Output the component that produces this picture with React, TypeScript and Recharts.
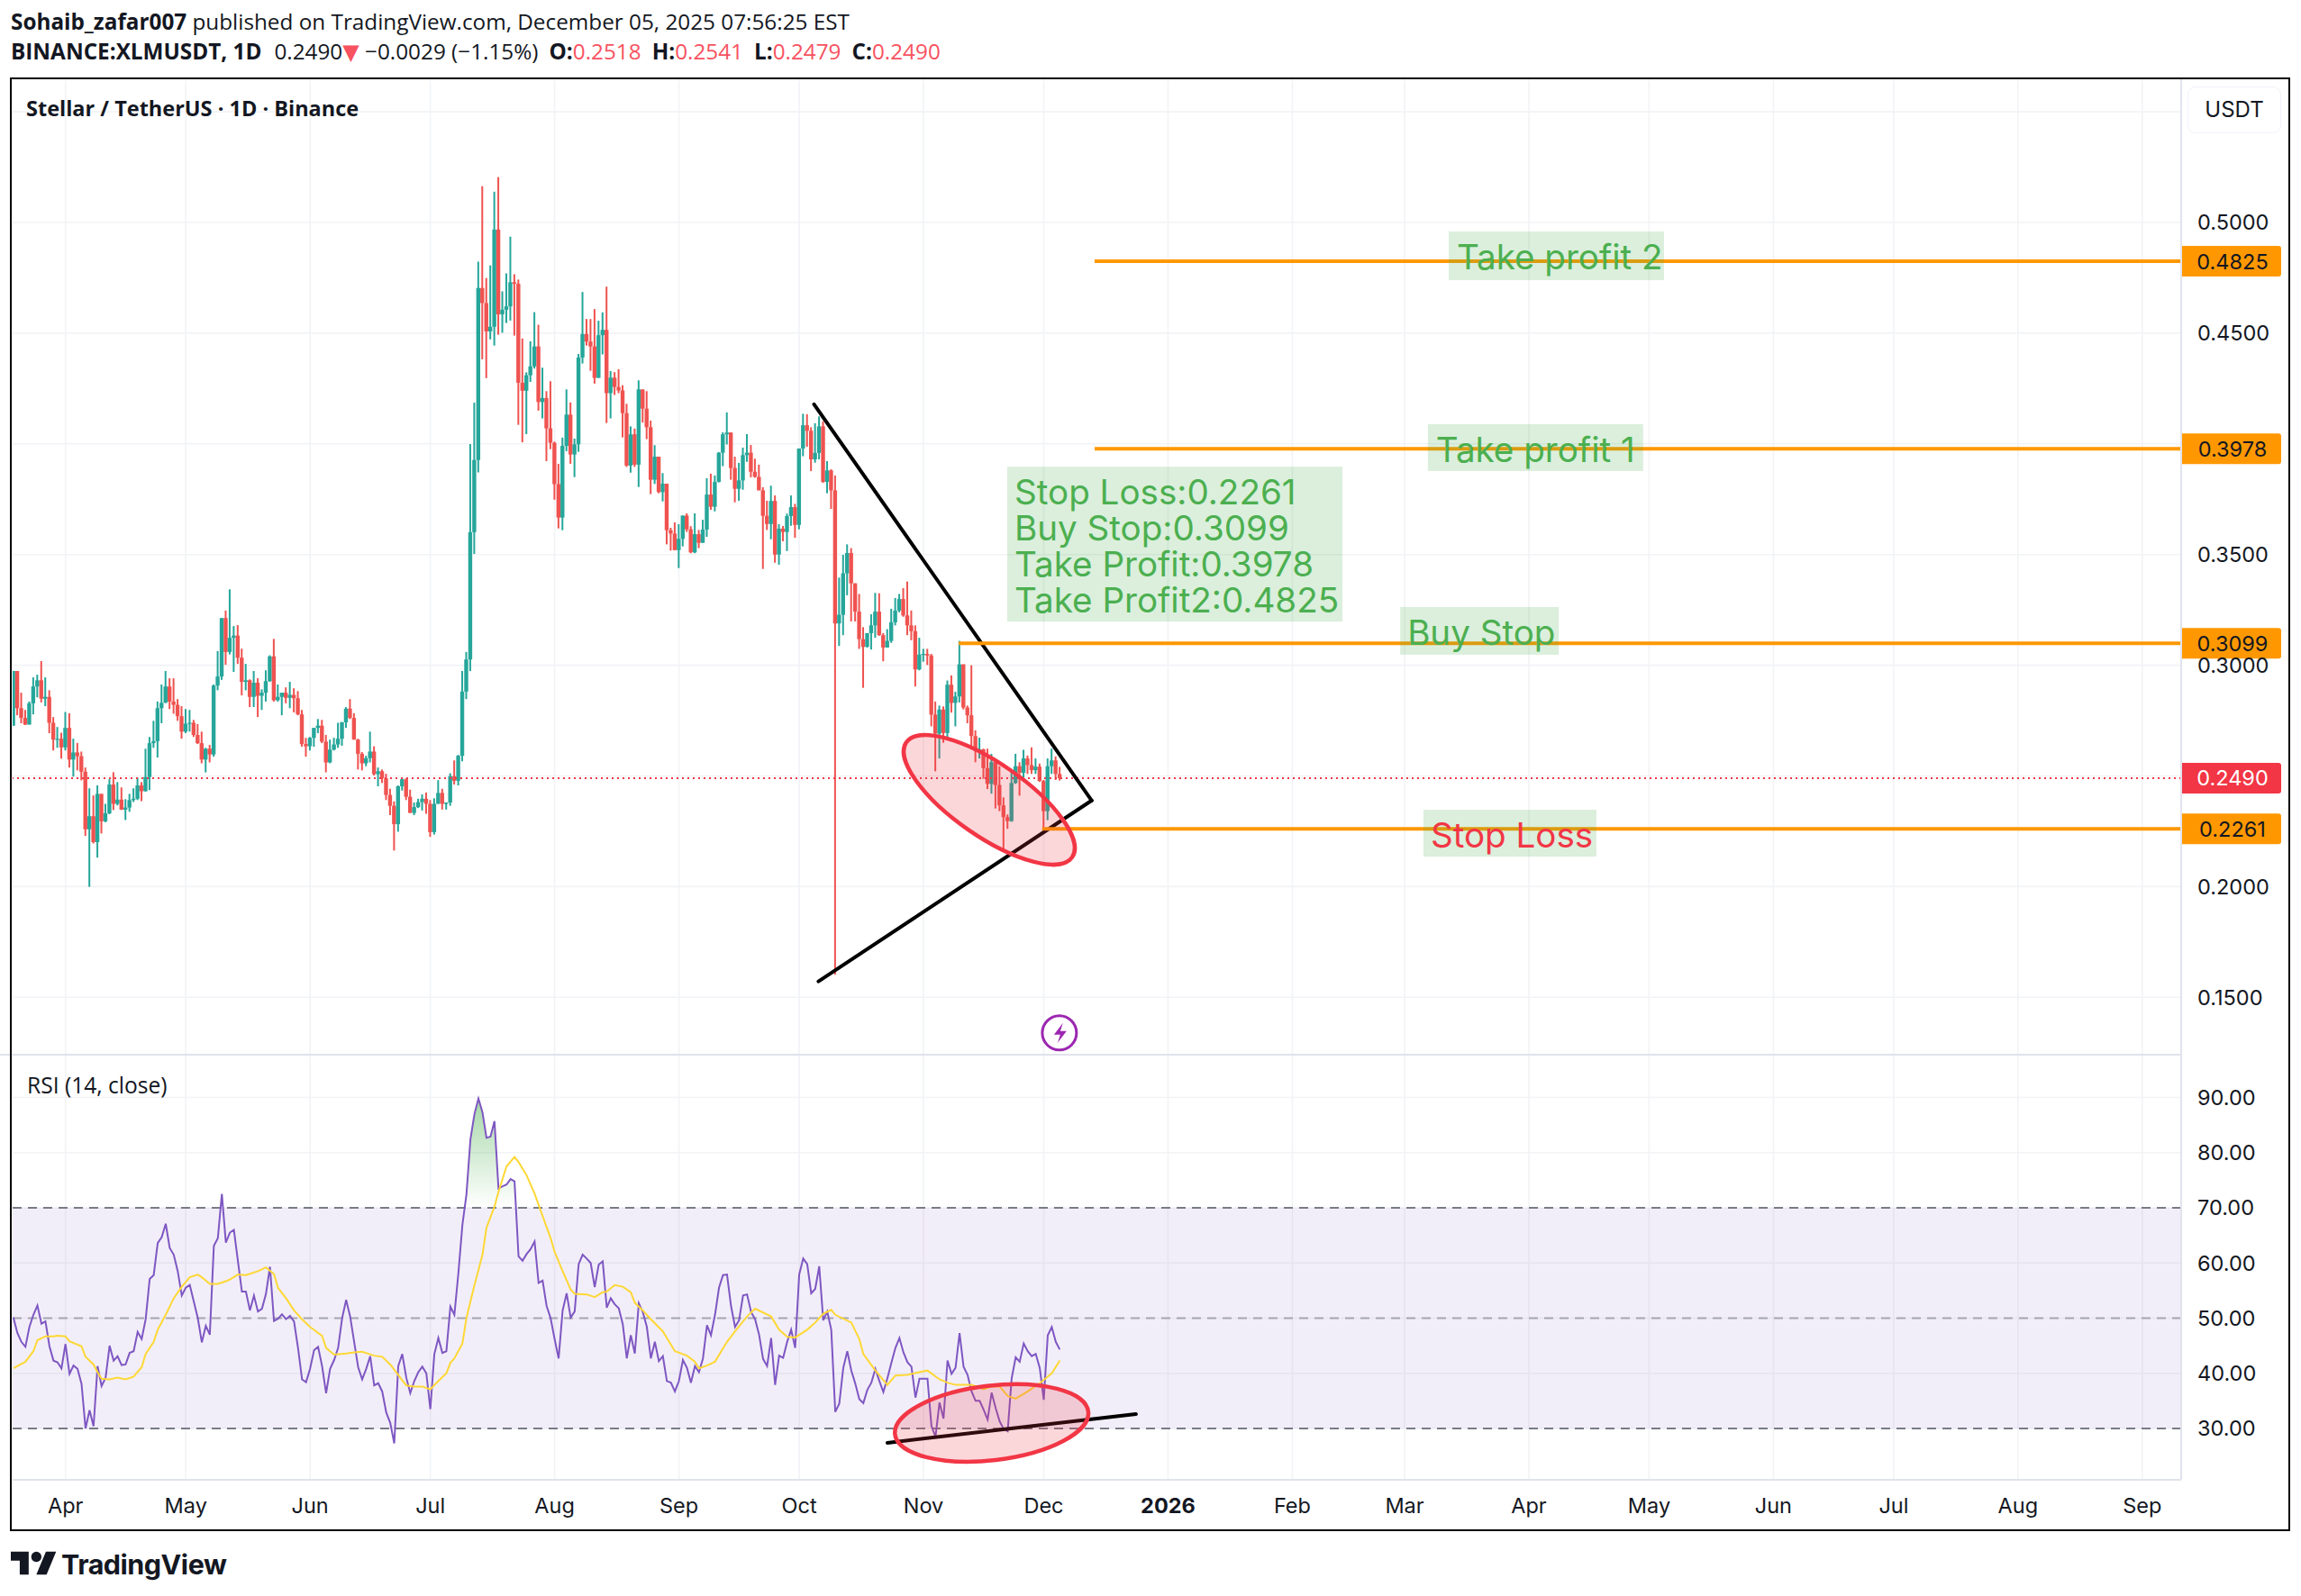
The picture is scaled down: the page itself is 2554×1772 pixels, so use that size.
import React from "react";
import { ComposedChart, Bar, Line, Area, XAxis, YAxis, CartesianGrid, ReferenceLine, ReferenceDot, ReferenceArea } from "recharts";

// Day 0 is 1 Apr 2025; the first candle is 19 Mar 2025.
const firstDay = -13;
const firstOpen = 0.2727;
const closes = [
  .2974,.2806,.2762,.2732,.2828,.2904,.2932,.2849,.2857,.2740,.2664,.2668,.2629,
  .2717,.2574,.2606,.2589,.2519,.2259,.2318,.2201,.2419,.2295,.2331,.2461,.2374,.2393,.2348,.2357,.2391,.2397,.2457,.2431,.2495,.2648,.2657,.2806,.2830,.2904,.2836,.2821,.2770,.2700,
  .2736,.2740,.2685,.2648,.2574,.2623,.2597,.2908,.2949,.3213,.3060,.3124,.3134,.3034,.2925,.2932,.2857,.2921,.2862,.2876,.2928,.3040,.2842,.2857,.2876,.2853,.2866,.2851,.2778,.2644,.2634,
  .2672,.2717,.2727,.2655,.2561,.2619,.2642,.2668,.2742,.2804,.2762,.2664,.2600,.2557,.2580,.2610,.2508,.2521,.2489,.2414,.2365,.2282,.2453,.2485,.2406,.2333,.2359,.2382,.2397,.2374,
  .2246,.2374,.2423,.2374,.2380,.2499,.2478,.2591,.2881,.3026,.3601,.3927,.4704,.4636,.4508,.4529,.4968,.4585,.4606,.4621,.4730,.4723,.4276,.4240,.4310,.4350,.4440,.4189,.4207,.4070,.4005,
  .3818,.3667,.3991,.4132,.3952,.3998,.4390,.4496,.4462,.4440,.4298,.4491,.4515,.4229,.4299,.4257,.4241,.4139,.3902,.4043,.3906,.4246,.4159,.4075,.3838,.3942,.3782,.3820,.3610,.3595,.3520,.3571,
  .3676,.3614,.3510,.3592,.3553,.3613,.3771,.3716,.3828,.3960,.4043,.4051,.3891,.3797,.3835,.3949,.3960,.3874,.3851,.3790,.3675,.3638,.3742,.3500,.3617,.3602,.3674,.3714,.3634,
  .3979,.4084,.4059,.3930,.3959,.4079,.3828,.3880,.3790,.3189,.3228,.3415,.3507,.3370,.3242,.3118,.3083,.3145,.3180,.3242,.3136,.3080,.3110,.3194,.3247,.3299,.3225,.3180,.3154,.2981,.3048,
  .3051,.3044,.2777,.2691,.2800,.2694,.2912,.2830,.2859,.3004,.2809,.2774,.2680,.2615,.2620,.2535,.2464,.2562,.2459,.2367,.2314,.2296,.2468,.2544,.2514,.2579,.2549,.2526,.2542,.2477,
  .2341,.2544,.2570,.2509,.2490,
];
const highs = [
  .2974,.2921,.2876,.2798,.2836,.2945,.2957,.3019,.2945,.2887,.2766,.2721,.2695,
  .2789,.2783,.2668,.2649,.2610,.2538,.2444,.2412,.2457,.2419,.2374,.2485,.2517,.2472,.2448,.2395,.2419,.2444,.2493,.2472,.2623,.2676,.2749,.2836,.2913,.2974,.2941,.2941,.2847,.2815,
  .2802,.2798,.2753,.2734,.2700,.2627,.2640,.2913,.3064,.3213,.3247,.3343,.3177,.3181,.3075,.3006,.2936,.2974,.2941,.2891,.2977,.3045,.3119,.2913,.2876,.2900,.2925,.2896,.2883,.2798,.2672,
  .2676,.2717,.2757,.2753,.2685,.2664,.2672,.2740,.2744,.2811,.2847,.2783,.2668,.2608,.2591,.2700,.2634,.2538,.2529,.2510,.2442,.2385,.2457,.2493,.2489,.2438,.2380,.2397,.2417,.2425,
  .2391,.2399,.2481,.2442,.2380,.2512,.2570,.2595,.2974,.3060,.3999,.4186,.4823,.5164,.4749,.4806,.5139,.5205,.4689,.4770,.4936,.4766,.4742,.4476,.4323,.4463,.4595,.4538,.4344,.4238,.4283,
  .4010,.3910,.4028,.4246,.4187,.4024,.4406,.4686,.4564,.4564,.4609,.4556,.4594,.4710,.4329,.4324,.4337,.4265,.4181,.4079,.4069,.4287,.4245,.4238,.4105,.3994,.3942,.3868,.3820,.3621,.3645,
  .3637,.3676,.3686,.3628,.3686,.3611,.3657,.3845,.3865,.3857,.3963,.4052,.4142,.4052,.3942,.3914,.3983,.4044,.3995,.3933,.3906,.3804,.3743,.3811,.3767,.3637,.3629,.3685,.3767,.3729,
  .3979,.4136,.4134,.4075,.4093,.4124,.4102,.3922,.3885,.3857,.3396,.3499,.3546,.3529,.3370,.3322,.3172,.3145,.3230,.3327,.3325,.3145,.3163,.3255,.3304,.3322,.3348,.3378,.3247,.3180,.3124,
  .3074,.3074,.3051,.2836,.2818,.2814,.2931,.2954,.2880,.3110,.3004,.2818,.3000,.2706,.2673,.2623,.2623,.2600,.2570,.2544,.2403,.2326,.2526,.2600,.2562,.2618,.2592,.2629,.2579,.2556,
  .2482,.2579,.2623,.2588,.2541,
];
const lows = [
  .2727,.2774,.2738,.2730,.2732,.2778,.2855,.2832,.2815,.2693,.2615,.2627,.2578,
  .2615,.2538,.2497,.2525,.2480,.2229,.1999,.2195,.2131,.2240,.2291,.2327,.2346,.2367,.2346,.2301,.2338,.2382,.2391,.2386,.2429,.2436,.2627,.2583,.2738,.2830,.2802,.2781,.2749,.2668,
  .2693,.2700,.2676,.2644,.2557,.2516,.2561,.2587,.2887,.2934,.3002,.3049,.2970,.3006,.2864,.2887,.2811,.2811,.2766,.2798,.2836,.2925,.2836,.2836,.2774,.2828,.2806,.2787,.2774,.2632,.2587,
  .2615,.2632,.2693,.2648,.2516,.2557,.2615,.2627,.2636,.2717,.2757,.2664,.2529,.2525,.2544,.2561,.2502,.2453,.2468,.2391,.2323,.2163,.2248,.2434,.2391,.2333,.2323,.2355,.2344,.2329,
  .2225,.2235,.2374,.2348,.2348,.2365,.2461,.2457,.2566,.2847,.2974,.3503,.3871,.4382,.4297,.4472,.4444,.4493,.4502,.4546,.4557,.4489,.4086,.4007,.4044,.4280,.4340,.4150,.4115,.3922,.3976,
  .3748,.3618,.3610,.3967,.3910,.3850,.3964,.4363,.4444,.4330,.4272,.4298,.4404,.4094,.4115,.4221,.4229,.4029,.3896,.3870,.3896,.3805,.4096,.4021,.3773,.3819,.3777,.3740,.3546,.3518,.3520,
  .3439,.3537,.3602,.3506,.3506,.3529,.3553,.3580,.3702,.3695,.3826,.3899,.3997,.3838,.3736,.3743,.3793,.3919,.3849,.3847,.3790,.3435,.3611,.3569,.3463,.3454,.3560,.3516,.3630,.3576,
  .3614,.3944,.3987,.3877,.3915,.3930,.3824,.3777,.3706,.1602,.3087,.3136,.3316,.3198,.3198,.3074,.2898,.3080,.3071,.3124,.3133,.3018,.3080,.3101,.3180,.3239,.3219,.3136,.3113,.2904,.2977,
  .3016,.3001,.2724,.2521,.2579,.2650,.2662,.2786,.2724,.2832,.2800,.2738,.2632,.2562,.2579,.2487,.2441,.2420,.2353,.2341,.2164,.2261,.2293,.2464,.2411,.2478,.2509,.2509,.2509,.2473,
  .2261,.2300,.2509,.2482,.2479,
];
const rsiValues = [
  50.1,47.3,45.7,44.8,48.4,50.6,52.3,49.0,49.4,44.9,42.3,42.0,40.9,
  45.3,39.9,41.4,40.8,38.1,30.0,33.3,30.4,41.3,37.7,39.2,45.0,42.3,43.1,41.5,41.6,43.7,44.0,47.5,46.2,49.8,57.1,57.8,63.6,64.7,67.1,62.7,61.5,58.5,54.1,
  55.5,56.0,53.0,50.0,45.6,48.6,47.0,63.1,64.5,72.5,63.7,65.5,66.0,60.4,54.8,54.8,51.4,54.1,51.2,51.7,54.4,59.3,49.5,49.9,50.7,49.8,50.4,49.4,44.6,38.9,38.4,
  40.8,44.2,44.8,41.3,36.4,40.8,42.4,44.6,50.0,53.3,50.3,45.7,41.1,38.9,40.8,43.1,37.8,38.2,36.7,32.9,31.0,27.3,41.3,43.5,39.2,36.4,38.6,40.2,41.2,40.0,
  33.5,43.5,46.4,43.7,44.0,52.1,50.6,58.2,66.9,72.4,82.4,87.0,89.8,87.3,82.7,82.9,85.7,73.5,73.9,74.2,75.2,74.8,61.2,60.4,61.6,62.5,63.9,56.4,56.8,52.2,50.0,
  46.2,42.7,51.4,54.5,50.1,51.2,59.8,61.5,60.8,60.0,55.6,59.7,60.3,51.9,53.6,52.5,51.8,48.9,42.7,46.9,43.6,52.7,51.1,48.4,42.7,45.7,42.2,43.1,38.6,38.3,36.7,
  38.6,42.4,41.0,38.3,41.3,40.2,42.7,48.7,46.9,50.6,55.5,57.8,57.9,52.2,48.4,49.6,54.1,54.3,51.1,49.8,47.0,42.6,41.3,46.4,37.9,43.2,42.8,45.7,47.9,44.6,
  57.9,60.8,59.8,54.5,55.3,59.4,49.6,51.2,47.9,33.0,34.5,41.0,44.0,40.5,38.1,35.3,34.6,37.0,38.3,40.8,38.6,36.6,39.1,41.9,44.6,46.4,43.8,42.0,41.2,35.6,39.0,
  39.0,39.0,30.4,28.5,34.7,31.8,42.3,39.9,41.0,47.3,41.2,39.7,36.7,35.0,35.0,33.4,31.6,36.5,33.7,31.3,29.9,29.5,39.1,42.9,42.1,45.4,44.0,43.1,43.5,41.0,
  35.2,46.9,48.4,45.7,44.3,
];
// RSI moving average: only the positions (1-based candle number).
const maCandle = [1,4,6,7,9,11,12,14,15,18,19,21,22,23,25,27,29,31,33,34,36,37,39,41,43,45,47,48,50,52,54,55,57,59,62,64,66,67,69,71,73,75,78,79,81,84,86,88,91,93,95,97,99,101,103,105,107,109,110,111,113,114,116,117,118,119,121,122,124,126,127,129,131,133,135,136,138,140,141,144,146,148,149,151,153,155,156,158,160,163,166,169,171,172,174,176,179,181,184,186,190,192,194,196,199,201,203,205,206,210,212,213,216,219,221,224,227,229,232,234,236,240,243,245,247,249,251,254,257,260,262];
const maValues = [40.9,42.1,44.0,46.0,46.7,46.7,46.8,46.7,45.8,44.9,43.0,41.6,40.2,39.0,38.9,39.2,38.9,39.4,41.1,43.5,45.7,47.9,50.6,53.6,55.7,57.4,57.9,57.4,56.2,56.2,56.7,57.0,57.9,57.8,58.5,59.2,58.0,55.5,53.6,51.4,49.8,48.4,46.8,44.6,43.4,43.6,43.8,43.9,43.2,43.0,41.6,39.7,37.8,37.6,37.6,37.1,38.6,40.0,41.9,42.7,45.4,50.0,56.0,58.7,61.5,66.4,70.2,72.9,77.5,79.2,78.3,75.9,72.6,68.5,64.5,62.0,58.5,55.2,54.4,54.3,53.8,54.7,54.8,56.0,55.7,54.7,52.8,51.4,49.8,47.6,44.0,43.2,42.1,40.9,41.4,42.1,45.7,47.6,50.3,51.7,50.3,47.9,46.6,46.5,47.9,49.2,50.8,51.5,50.6,49.2,46.2,43.5,40.5,37.9,39.6,39.7,40.2,40.5,38.9,38.3,37.9,37.9,37.1,37.6,37.6,35.9,35.4,36.7,38.2,40.0,42.3];

const monthTicks = [0,30,61,91,122,153,183,214,244,275,306,334,365,395,426,456,487,518];
const monthLabels = ["Apr","May","Jun","Jul","Aug","Sep","Oct","Nov","Dec","2026","Feb","Mar","Apr","May","Jun","Jul","Aug","Sep"];
const priceTicks = [0.15,0.2,0.3,0.35,0.45,0.5];
const priceGrid = [0.15,0.2,0.25,0.3,0.35,0.4,0.45,0.5,0.55];
const rsiTicks = [30,40,50,60,70,80,90];

const lastPrice = 0.249;
const stopLoss = 0.2261, buyStop = 0.3099, takeProfit1 = 0.3978, takeProfit2 = 0.4825;
const levels = [
  { price: takeProfit2, from: 256.7 },
  { price: takeProfit1, from: 256.7 },
  { price: buyStop, from: 222.8 },
  { price: stopLoss, from: 243.6 },
];
const notes = [
  { day: 345, top: 0.4959, w: 239, h: 54, color: "#4caf50", lines: ["Take profit 2"], dx: 9, base: 42 },
  { day: 339.8, top: 0.4089, w: 239, h: 52, color: "#4caf50", lines: ["Take profit 1"], dx: 9, base: 42 },
  { day: 332.9, top: 0.3263, w: 176, h: 53, color: "#4caf50", lines: ["Buy Stop"], dx: 8, base: 42 },
  { day: 338.7, top: 0.2347, w: 192, h: 52, color: "#f23645", lines: ["Stop Loss"], dx: 8, base: 42 },
  { day: 234.9, top: 0.3897, w: 372, h: 172, color: "#4caf50", lines: ["Stop Loss:0.2261", "Buy Stop:0.3099", "Take Profit:0.3978", "Take Profit2:0.4825"], dx: 8, base: 42 },
];

const domainX: [number, number] = [-13.19, 527.7];
const axisFont = "Inter, sans-serif";
const ink = "#131722";
const GREEN = "#26a69a";
const RED = "#ef5350";
const gridColor = "#f2f3f6";
const axisColor = "#e0e3eb";

const candles = closes.map((c, i) => ({
  day: firstDay + i,
  open: i === 0 ? firstOpen : closes[i - 1],
  close: c,
  high: highs[i],
  low: lows[i],
  range: [lows[i], highs[i]],
}));
const rsiRows = rsiValues.map((r, i) => {
  const k = maCandle.indexOf(i + 1);
  return { day: firstDay + i, rsi: r, ma: k >= 0 ? maValues[k] : null, over: r > 70 ? [70, r] : null };
});

function Candle(p: any) {
  const { x, y, width, height, payload } = p;
  const { open, close, high, low } = payload;
  const perUnit = height / Math.max(high - low, 1e-6);
  const color = close >= open ? GREEN : RED;
  const mid = x + width / 2;
  const top = y + (high - Math.max(open, close)) * perUnit;
  const bodyH = Math.max(Math.abs(open - close) * perUnit, 1.2);
  return (
    <g>
      <rect x={mid - 1} y={y} width={2} height={height} fill={color} />
      <rect x={mid - 2.2} y={top} width={4.4} height={bodyH} fill={color} />
    </g>
  );
}

const tag = (fill: string, color: string, text: string) => (p: any) => (
  <g>
    <path d={`M${p.cx + 1} ${p.cy - 17}h107a3 3 0 0 1 3 3v28a3 3 0 0 1 -3 3h-107z`} fill={fill} />
    <text x={p.cx + 57} y={p.cy + 8.5} textAnchor="middle" fontFamily={axisFont} fontSize={23.5} fill={color}>{text}</text>
  </g>
);

const noteShape = (n: (typeof notes)[number]) => (p: any) => (
  <g>
    <rect x={p.cx} y={p.cy} width={n.w} height={n.h} fill="#4caf50" fillOpacity={0.2} />
    <text fontFamily="Inter, sans-serif" fontSize={38.6} fill={n.color}>
      {n.lines.map((t, i) => (
        <tspan key={t} x={p.cx + n.dx} y={p.cy + n.base + i * 40}>{t}</tspan>
      ))}
    </text>
  </g>
);

const ellipse = (a: number, b: number, deg: number) => (p: any) => (
  <ellipse cx={p.cx} cy={p.cy} rx={a} ry={b} transform={`rotate(${deg} ${p.cx} ${p.cy})`} fill="#f23645" fillOpacity={0.2} stroke="#f23645" strokeWidth={4.5} />
);

const Bolt = (p: any) => (
  <g>
    <circle cx={p.cx} cy={p.cy} r={19} fill="#fff" stroke="#9c27b0" strokeWidth={3} />
    <path d={`M${p.cx + 4} ${p.cy - 11}l-10 13h7l-3 9 10 -13h-7z`} fill="#9c27b0" />
  </g>
);

function MonthTick(p: any) {
  const i = monthTicks.indexOf(p.payload.value);
  const label = monthLabels[i];
  return (
    <text x={p.x} y={p.y + 29} textAnchor="middle" fontFamily={axisFont} fontSize={23.5} fontWeight={label === "2026" ? 700 : 400} fill={ink}>{label}</text>
  );
}

const abs = (left: number, top: number, extra: React.CSSProperties = {}): React.CSSProperties => ({ position: "absolute", left, top, whiteSpace: "nowrap", ...extra });
const headFont = "'Open Sans', sans-serif";
const R = ({ children }: any) => <span style={{ color: "#f7525f" }}>{children}</span>;
const B = ({ children }: any) => <span style={{ fontWeight: 700 }}>{children}</span>;
const Gap = ({ w }: any) => <span style={{ display: "inline-block", width: w }} />;

export default function App() {
  return (
    <div style={{ position: "absolute", left: 0, top: 0, width: 2554, height: 1772, overflow: "hidden", background: "#fff", color: ink }}>
      <div style={abs(12, 8, { font: `24.3px/32px ${headFont}` })}>
        <B>Sohaib_zafar007</B> published on TradingView.com, December 05, 2025 07:56:25 EST
      </div>
      <div style={abs(12, 41, { font: `24.3px/32px ${headFont}` })}>
        <B>BINANCE:XLMUSDT, 1D</B><Gap w={14} />0.2490<span style={{ color: "#f7525f", fontFamily: "'DejaVu Sans'", fontSize: 24 }}>▼</span> −0.0029 (−1.15%)<Gap w={12} /><B>O:</B><R>0.2518</R><Gap w={12} /><B>H:</B><R>0.2541</R><Gap w={12} /><B>L:</B><R>0.2479</R><Gap w={12} /><B>C:</B><R>0.2490</R>
      </div>

      <div style={abs(0, 0)}>
        <ComposedChart width={2554} height={1172} data={candles} margin={{ top: 88, right: 13, bottom: 1, left: 14 }}>
          <CartesianGrid stroke={gridColor} strokeWidth={1.6} horizontalValues={priceGrid} verticalValues={monthTicks} />
          <XAxis dataKey="day" type="number" domain={domainX} allowDataOverflow hide />
          <YAxis orientation="right" type="number" width={120} domain={[0.12408, 0.56469]} allowDataOverflow ticks={priceTicks} interval={0}
            tickFormatter={(v: number) => v.toFixed(4)} tickLine={false} tickMargin={12}
            axisLine={{ stroke: axisColor, strokeWidth: 2 }} tick={{ fontFamily: axisFont, fontSize: 23.5, fill: ink }} />
          <Bar dataKey="range" barSize={4} isAnimationActive={false} shape={Candle} />
          <ReferenceLine y={lastPrice} stroke="#f23645" strokeWidth={2} strokeDasharray="2 4" />
          <ReferenceDot x={230.4} y={0.2392} r={1} ifOverflow="visible" shape={ellipse(112, 40.5, 34.7)} />
          <ReferenceLine ifOverflow="visible" stroke="#000" strokeWidth={4} strokeLinecap="round" segment={[{ x: 186.7, y: 0.4179 }, { x: 255.96, y: 0.2389 }]} />
          <ReferenceLine ifOverflow="visible" stroke="#000" strokeWidth={4} strokeLinecap="round" segment={[{ x: 187.8, y: 0.1572 }, { x: 255.96, y: 0.2389 }]} />
          {levels.map((l) => (
            <ReferenceLine key={l.price} stroke="#ff9800" strokeWidth={4} segment={[{ x: l.from, y: l.price }, { x: domainX[1], y: l.price }]} />
          ))}
          {notes.map((n) => (
            <ReferenceDot key={n.lines[0]} x={n.day} y={n.top} r={1} ifOverflow="visible" shape={noteShape(n)} />
          ))}
          <ReferenceDot x={247.9} y={0.1339} r={1} ifOverflow="visible" shape={Bolt} />
          {levels.map((l) => (
            <ReferenceDot key={l.price} x={domainX[1]} y={l.price} r={1} ifOverflow="visible" shape={tag("#ff9800", ink, l.price.toFixed(4))} />
          ))}
          <ReferenceDot x={domainX[1]} y={lastPrice} r={1} ifOverflow="visible" shape={tag("#f23645", "#fff", lastPrice.toFixed(4))} />
        </ComposedChart>
      </div>

      <div style={abs(0, 1170, { width: 2422, height: 2, background: axisColor })} />

      <div style={abs(0, 1172)}>
        <ComposedChart width={2554} height={527} data={rsiRows} margin={{ top: 0, right: 13, bottom: 0, left: 14 }}>
          <defs>
            <linearGradient id="overbought" x1="0" y1="0" x2="0" y2="1">
              <stop offset="0%" stopColor="#4caf50" stopOpacity={0.5} />
              <stop offset="100%" stopColor="#4caf50" stopOpacity={0} />
            </linearGradient>
          </defs>
          <CartesianGrid stroke={gridColor} strokeWidth={1.6} horizontalValues={rsiTicks} verticalValues={monthTicks} />
          <XAxis dataKey="day" type="number" domain={domainX} allowDataOverflow ticks={monthTicks} interval={0} height={56}
            tickLine={false} axisLine={{ stroke: axisColor, strokeWidth: 2 }} tick={MonthTick} />
          <YAxis orientation="right" type="number" width={120} domain={[20.69, 97.59]} allowDataOverflow ticks={rsiTicks} interval={0}
            tickFormatter={(v: number) => v.toFixed(2)} tickLine={false} tickMargin={12}
            axisLine={{ stroke: axisColor, strokeWidth: 2 }} tick={{ fontFamily: axisFont, fontSize: 23.5, fill: ink }} />
          <ReferenceArea y1={30} y2={70} fill="#7e57c2" fillOpacity={0.1} stroke="none" />
          <ReferenceLine y={70} stroke="#787b86" strokeWidth={2} strokeDasharray="10 7" />
          <ReferenceLine y={50} stroke="#787b86" strokeOpacity={0.6} strokeWidth={2} strokeDasharray="10 7" />
          <ReferenceLine y={30} stroke="#787b86" strokeWidth={2} strokeDasharray="10 7" />
          <Area dataKey="over" stroke="none" fill="url(#overbought)" fillOpacity={1} dot={false} activeDot={false} isAnimationActive={false} />
          <Line dataKey="rsi" stroke="#7e57c2" strokeWidth={2} dot={false} activeDot={false} isAnimationActive={false} />
          <Line dataKey="ma" stroke="#fdd835" strokeWidth={2} dot={false} activeDot={false} connectNulls isAnimationActive={false} />
          <ReferenceDot x={231} y={31} r={1} ifOverflow="visible" shape={ellipse(108, 41.4, -6.7)} />
          <ReferenceLine ifOverflow="visible" stroke="#000" strokeWidth={4} strokeLinecap="round" segment={[{ x: 205, y: 27.4 }, { x: 267, y: 32.6 }]} />
        </ComposedChart>
      </div>

      <div style={abs(29, 104, { font: `700 23.5px/32px ${headFont}` })}>Stellar / TetherUS · 1D · Binance</div>
      <div style={abs(30, 1189, { font: `400 24.6px/32px ${headFont}` })}>RSI (14, close)</div>
      <div style={abs(2428, 96, { width: 104, height: 52, boxSizing: "border-box", border: "1.5px solid #f0f3fa", borderRadius: 9, font: `24px/49px ${axisFont}`, textAlign: "center" })}>USDT</div>

      <div style={abs(11, 86, { width: 2531, height: 1614, boxSizing: "border-box", border: "2.6px solid #000", pointerEvents: "none" })} />

      <svg style={abs(12, 1717)} width={51} height={40} viewBox="0 0 36 28">
        <path d="M14 22H7V11H0V4h14v18zM28 22h-8l7.5-18h8L28 22z" fill={ink} />
        <circle cx="20" cy="8" r="4" fill={ink} />
      </svg>
      <div style={abs(68, 1714, { font: `700 30.5px/46px ${axisFont}`, letterSpacing: -0.5 })}>TradingView</div>
    </div>
  );
}
